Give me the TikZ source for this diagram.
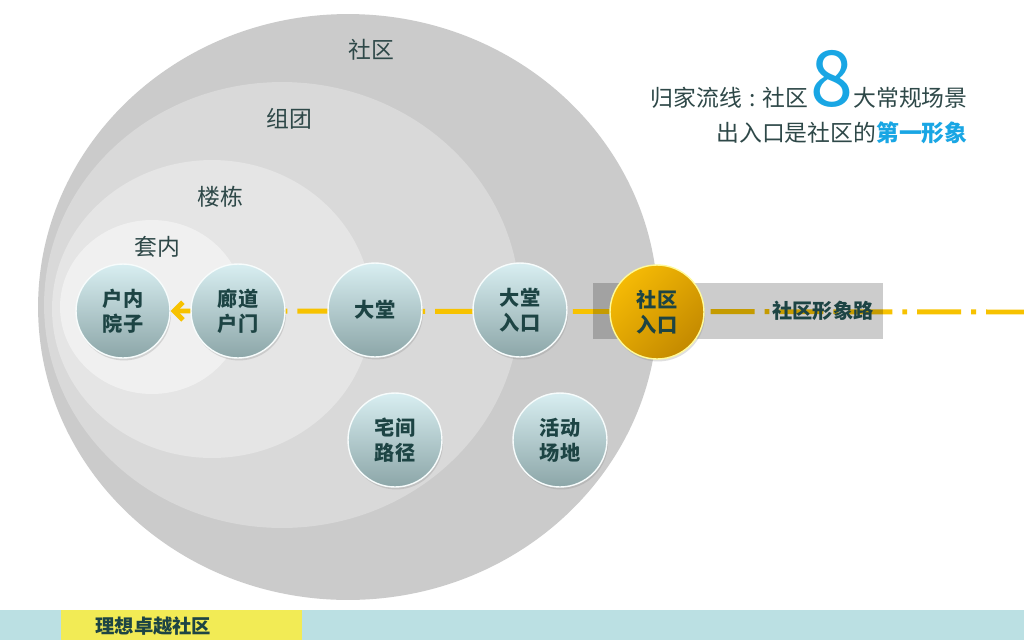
\documentclass[tikz,border=0pt]{standalone}
\usepackage{fontspec}
\setmainfont{Noto Sans CJK SC}
\usetikzlibrary{arrows.meta,shadows}
\definecolor{ring1}{HTML}{CBCBCB}
\definecolor{ring2}{HTML}{D9D9D9}
\definecolor{ring3}{HTML}{E5E5E5}
\definecolor{ring4}{HTML}{F0F0F0}
\definecolor{labc}{HTML}{2E4848}
\definecolor{nodetxt}{HTML}{1D4444}
\definecolor{nodetop}{HTML}{D8EEF1}
\definecolor{nodebot}{HTML}{8CA6A8}
\definecolor{goldtop}{HTML}{F5BA05}
\definecolor{goldbot}{HTML}{C48A00}
\definecolor{flowc}{HTML}{F7C200}
\definecolor{blue8}{HTML}{19A6E4}
\definecolor{barc}{HTML}{BBE0E3}
\definecolor{baryel}{HTML}{F2EB55}
\begin{document}
\begin{tikzpicture}[x=0.02cm,y=-0.02cm,
  lbl/.style={text=labc, font=\fontsize{13}{15}\selectfont, inner sep=0pt},
  spot/.style={circle, minimum size=1.88cm, inner sep=0pt, top color=nodetop, bottom color=nodebot,
    draw=white!80!nodetop, line width=0.8pt, align=center, text=nodetxt,
    font=\bfseries\fontsize{11.5}{14}\selectfont,
    drop shadow={opacity=0.25, shadow xshift=0.6pt, shadow yshift=-1.4pt}},
  gold/.style={spot, top color=goldtop, bottom color=goldbot, shading angle=45, draw=yellow!40!white},
  flow/.style={draw=flowc, line width=2.8pt, dash pattern=on 25pt off 5.7pt on 2.8pt off 5.7pt}]
\useasboundingbox (0,0) rectangle (1024,640);
\fill[white] (0,0) rectangle (1024,640);
% nested zones
\fill[ring1] (348,307) ellipse [x radius=6.2cm, y radius=5.86cm];
\fill[ring2] (282,305) ellipse [x radius=4.76cm, y radius=4.46cm];
\fill[ring3] (212,309) ellipse [x radius=3.2cm, y radius=2.98cm];
\fill[ring4] (152,307) ellipse [x radius=1.84cm, y radius=1.74cm];
\node[lbl] (lshequ) at (371,50) {社区};
\node[lbl] (lzutuan) at (289,119) {组团};
\node[lbl] (lloudong) at (220,197) {楼栋};
\node[lbl] (ltaonei) at (157,247) {套内};
% flow line
\coordinate (far) at (1030,312);
\node[spot] (n1) at (123,311) {户内\\院子};
\draw[flow, -{Straight Barb[length=5pt,width=10pt]}] (far) -- (n1.east);
% road band
\fill[black, fill opacity=0.2] (593,283) rectangle (883,339);
\node[text=nodetxt, font=\bfseries\fontsize{11.5}{14}\selectfont, inner sep=0pt] (road) at (823,311) {社区形象路};
% stations
\node[spot] (n2) at (238,311) {廊道\\户门};
\node[spot] (n3) at (375,310) {大堂};
\node[spot] (n4) at (520,310) {大堂\\入口};
\node[gold] (n5) at (657,312) {社区\\入口};
\node[spot] (n6) at (395,440) {宅间\\路径};
\node[spot] (n7) at (560,440) {活动\\场地};
% headline
\node[anchor=base east, text=labc, font=\fontsize{13}{15}\selectfont, inner sep=0pt] (t1) at (968,106)
  {归家流线\makebox[0.9em]{:}社区\hspace{0.1em}{\color{blue8}\fontsize{44}{44}\selectfont 8}大常规场景};
\node[anchor=base east, text=labc, font=\fontsize{13}{15}\selectfont, inner sep=0pt] (t2) at (968,141)
  {出入口是社区的{\color{blue8}\bfseries 第一形象}};
% footer
\fill[barc] (0,610) rectangle (1024,640);
\fill[baryel] (61,610) rectangle (302,640);
\node[anchor=west, text=nodetxt, font=\bfseries\fontsize{11}{13}\selectfont, inner sep=0pt] (foot) at (95,626) {理想卓越社区};
\end{tikzpicture}
\end{document}
